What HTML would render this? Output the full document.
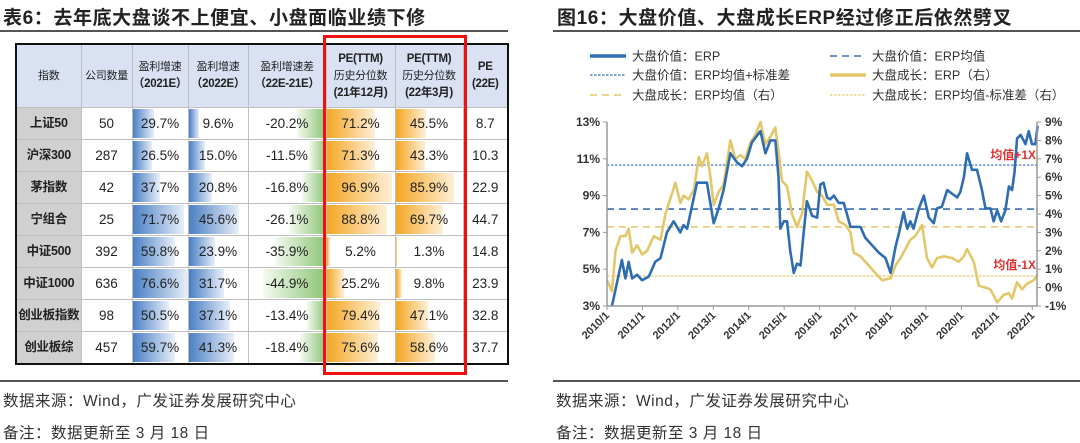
<!DOCTYPE html>
<html><head><meta charset="utf-8">
<style>
body{margin:0;width:1080px;height:443px;background:#fff;position:relative;overflow:hidden;font-family:"Liberation Sans","Noto Sans CJK SC",sans-serif;}
.t{position:absolute;white-space:nowrap;}
.title{font-weight:bold;font-size:19px;color:#222;top:3px;letter-spacing:0.6px;}
.hr{position:absolute;height:2px;background:#555;}
.foot{font-size:15.5px;color:#333;letter-spacing:0.5px;}
table{position:absolute;left:15px;top:43px;width:492px;border-collapse:collapse;border:2.5px solid #111;table-layout:fixed;font-size:13.5px;color:#222;}
td{border:1px solid #bfbfbf;text-align:center;padding:0;position:relative;height:31px;line-height:31px;white-space:nowrap;overflow:hidden;}
th{background:#d9e1f2;border:1px solid #bfbfbf;font-weight:normal;font-size:11px;line-height:17px;color:#222;height:62px;padding:0;white-space:nowrap;overflow:hidden;letter-spacing:-0.3px;}
th b{font-size:11.5px;}
td.nm{background:#d0d0d0;font-weight:bold;font-size:12.5px;letter-spacing:-0.3px;}
.bar{position:absolute;top:1px;bottom:1px;}
.v{position:relative;}
</style></head><body>
<div class="t title" style="left:3px">表6：去年底大盘谈不上便宜、小盘面临业绩下修</div>
<div class="t title" style="left:557px">图16：大盘价值、大盘成长ERP经过修正后依然劈叉</div>
<div class="hr" style="left:0;top:30px;width:508px"></div>
<div class="hr" style="left:553px;top:30px;width:527px"></div>

<table>
<colgroup><col style="width:65px"><col style="width:51px"><col style="width:56px"><col style="width:60px"><col style="width:78px"><col style="width:69px"><col style="width:68px"><col style="width:45px"></colgroup>
<thead><tr>
<th>指数</th><th>公司数量</th><th>盈利增速<br><b>（2021E）</b></th><th>盈利增速<br><b>（2022E）</b></th><th>盈利增速差<br><b>（22E-21E）</b></th><th><b>PE(TTM)</b><br>历史分位数<br><b>(21年12月)</b></th><th><b>PE(TTM)</b><br>历史分位数<br><b>(22年3月)</b></th><th><b>PE<br>(22E)</b></th>
</tr></thead>
<tbody id="tb"></tbody>
</table>
<div style="position:absolute;left:323px;top:35px;width:138px;height:334px;border:3.5px solid #f01010"></div>

<div class="hr" style="left:0;top:380px;width:508px;height:1.5px"></div>
<div class="hr" style="left:553px;top:380px;width:527px;height:1.5px"></div>
<div class="t foot" style="left:3px;top:389px">数据来源：Wind，广发证券发展研究中心</div>
<div class="t foot" style="left:3px;top:421px">备注：数据更新至 3 月 18 日</div>
<div class="t foot" style="left:556px;top:389px">数据来源：Wind，广发证券发展研究中心</div>
<div class="t foot" style="left:556px;top:421px">备注：数据更新至 3 月 18 日</div>

<svg id="ch" width="1080" height="443" style="position:absolute;left:0;top:0"></svg>

<script>
// ---- table data ----
const names=["上证50","沪深300","茅指数","宁组合","中证500","中证1000","创业板指数","创业板综"];
const counts=[50,287,42,25,392,636,98,457];
const g21=[29.7,26.5,37.7,71.7,59.8,76.6,50.5,59.7];
const g22=[9.6,15.0,20.8,45.6,23.9,31.7,37.1,41.3];
const gdiff=[-20.2,-11.5,-16.8,-26.1,-35.9,-44.9,-13.4,-18.4];
const pe21=[71.2,71.3,96.9,88.8,5.2,25.2,79.4,75.6];
const pe22=[45.5,43.3,85.9,69.7,1.3,9.8,47.1,58.6];
const pe=[8.7,10.3,22.9,44.7,14.8,23.9,32.8,37.7];
const tb=document.getElementById('tb');
function cell(tr,txt,bar){const td=document.createElement('td');
 
 
 if(bar){const b=document.createElement('div');b.className='bar';
  
  
  b.style.width=bar.w+'px';
  if(bar.right){b.style.right='0';b.style.background='linear-gradient(to left,#8cc476,#f4faf0)';}
  else{b.style.left='0';b.style.background=bar.c;}
  td.appendChild(b);}
 const s=document.createElement('span');s.className='v';s.textContent=txt;td.appendChild(s);tr.appendChild(td);return td;}
const blueG='linear-gradient(to right,#4a7fc4,#e8eff9)', orG='linear-gradient(to right,#f5a623,#fdf0d8)';
names.forEach((n,i)=>{const tr=document.createElement('tr');
 
 
 const a=cell(tr,n);a.className='nm';
 cell(tr,counts[i]);
 cell(tr,g21[i].toFixed(1)+'%',{w:Math.min(55,g21[i]/76.6*55),c:blueG});
 cell(tr,g22[i].toFixed(1)+'%',{w:Math.min(59,g22[i]/45*50),c:blueG});
 cell(tr,gdiff[i].toFixed(1)+'%',{w:Math.min(77,Math.abs(gdiff[i])*1.4),right:true});
 cell(tr,pe21[i].toFixed(1)+'%',{w:pe21[i]*0.68,c:orG});
 cell(tr,pe22[i].toFixed(1)+'%',{w:pe22[i]*0.68,c:orG});
 cell(tr,pe[i].toFixed(1));
 tb.appendChild(tr);});

// ---- chart data ----
const valueT=[2010.14,2010.42,2010.52,2010.61,2010.71,2010.85,2010.99,2011.18,2011.36,2011.51,2011.69,2011.88,2012.07,2012.16,2012.26,2012.54,2012.82,2013.01,2013.15,2013.29,2013.48,2013.67,2013.81,2013.95,2014.09,2014.33,2014.47,2014.61,2014.75,2014.84,2014.89,2014.99,2015.08,2015.17,2015.27,2015.36,2015.46,2015.55,2015.64,2015.79,2015.93,2016.02,2016.11,2016.21,2016.30,2016.40,2016.54,2016.68,2016.77,2016.87,2017.01,2017.15,2017.29,2017.48,2017.67,2017.86,2018.00,2018.14,2018.23,2018.37,2018.47,2018.56,2018.65,2018.80,2018.94,2019.08,2019.22,2019.31,2019.45,2019.60,2019.74,2019.88,2019.97,2020.07,2020.16,2020.30,2020.44,2020.58,2020.68,2020.82,2020.91,2021.01,2021.12,2021.24,2021.34,2021.43,2021.50,2021.57,2021.67,2021.81,2021.90,2021.99,2022.09,2022.15];
const valueERP=[3.0,5.5,4.5,5.4,4.5,4.7,4.4,4.6,5.4,5.6,7.0,7.6,7.0,7.4,7.2,9.7,9.7,7.5,8.3,9.3,11.3,10.8,10.6,11.0,11.9,12.5,11.3,12.0,12.0,10.0,7.2,7.6,7.6,6.0,4.8,5.3,5.2,7.0,8.7,7.9,7.8,9.6,9.7,8.9,8.8,9.0,8.6,8.6,8.0,7.3,7.3,7.3,6.7,6.3,5.9,5.6,4.8,6.2,6.9,8.1,7.2,7.6,7.2,8.3,9.0,7.8,7.5,8.3,8.4,9.3,9.1,8.9,9.2,10.0,11.3,10.4,10.4,9.3,8.3,8.3,7.6,8.2,7.6,8.2,9.5,9.3,10.3,12.1,12.3,11.8,12.5,11.8,11.8,12.8];
const growthT=[2010.00,2010.14,2010.24,2010.38,2010.52,2010.61,2010.71,2010.85,2010.99,2011.13,2011.32,2011.51,2011.65,2011.93,2012.07,2012.16,2012.30,2012.45,2012.59,2012.68,2012.82,2012.92,2013.01,2013.15,2013.29,2013.48,2013.62,2013.76,2013.90,2014.05,2014.19,2014.33,2014.47,2014.61,2014.75,2014.84,2014.94,2015.08,2015.22,2015.36,2015.50,2015.64,2015.79,2015.93,2016.07,2016.21,2016.40,2016.54,2016.73,2016.87,2016.96,2017.15,2017.34,2017.57,2017.76,2018.00,2018.14,2018.28,2018.42,2018.56,2018.70,2018.89,2019.03,2019.17,2019.31,2019.50,2019.74,2019.92,2020.07,2020.16,2020.35,2020.49,2020.68,2020.82,2021.01,2021.19,2021.34,2021.43,2021.57,2021.71,2021.85,2022.04,2022.15];
const growthERP=[0.4,-0.2,2.0,2.8,2.8,3.2,1.9,2.3,1.8,2.0,2.8,2.6,4.0,5.7,4.6,5.0,4.8,5.3,7.1,6.6,7.3,6.0,4.5,5.2,5.6,8.0,7.0,7.2,7.0,7.9,8.3,9.0,7.8,8.2,8.7,7.4,5.8,5.5,4.0,3.3,4.0,6.3,5.8,5.2,5.0,4.5,4.5,3.6,3.4,3.0,1.9,1.7,1.3,0.8,0.4,0.5,1.2,1.6,2.1,2.6,2.8,3.4,1.6,1.1,1.6,1.7,1.6,1.4,1.7,2.1,1.4,0.1,0.0,-0.1,-0.8,-0.4,-0.3,-0.6,0.3,-0.1,0.2,0.4,0.7];
const refLeft=[8.27,10.66];   // value mean, mean+std
const refRight=[3.3,0.63];    // growth mean, mean-std
const leftTicks=[3,5,7,9,11,13];
const rightTicks=[-1,0,1,2,3,4,5,6,7,8,9];
const xTickYears=[2010,2011,2012,2013,2014,2015,2016,2017,2018,2019,2020,2021,2022];

const X0=607,X1=1037,Y0=122,Y1=306;
const xs=t=>X0+(t-2010)*35.44;
const yl=v=>Y1-(v-3)/10*(Y1-Y0);
const yr=v=>Y1-(v+1)/10*(Y1-Y0);
const svg=document.getElementById('ch');const NS='http://www.w3.org/2000/svg';
function mk(tag,at,name){const e=document.createElementNS(NS,tag);for(const k in at)e.setAttribute(k,at[k]);
 
 
 svg.appendChild(e);return e;}
function txt(x,y,s,anchor,name,extra){const e=mk('text',Object.assign({x:x,y:y,'text-anchor':anchor,'font-size':12,'font-weight':'bold',fill:'#333','font-family':'Liberation Sans, Noto Sans CJK SC, sans-serif'},extra||{}),name);e.textContent=s;return e;}

mk('line',{x1:X0,x2:X1,y1:yl(refLeft[0]),y2:yl(refLeft[0]),stroke:'#3a6fb0','stroke-width':1.6,'stroke-dasharray':'7,5'},'value-mean-line');
mk('line',{x1:X0,x2:X1,y1:yl(refLeft[1]),y2:yl(refLeft[1]),stroke:'#3a6fb0','stroke-width':1.2,'stroke-dasharray':'2.5,1.5'},'value-mean-plus-std-line');
mk('line',{x1:X0,x2:X1,y1:yr(refRight[0]),y2:yr(refRight[0]),stroke:'#e3c76a','stroke-width':1.6,'stroke-dasharray':'7,5'},'growth-mean-line');
mk('line',{x1:X0,x2:X1,y1:yr(refRight[1]),y2:yr(refRight[1]),stroke:'#e3c76a','stroke-width':1.2,'stroke-dasharray':'2.5,1.5'},'growth-mean-minus-std-line');

mk('polyline',{points:growthT.map((t,i)=>xs(t)+','+yr(growthERP[i])).join(' '),fill:'none',stroke:'#e3c76a','stroke-width':2.6,'stroke-linejoin':'round'},'growth-erp-line');
mk('polyline',{points:valueT.map((t,i)=>xs(t)+','+yl(valueERP[i])).join(' '),fill:'none',stroke:'#2e6db0','stroke-width':2.6,'stroke-linejoin':'round'},'value-erp-line');

mk('line',{x1:X0,x2:X0,y1:Y0,y2:Y1,stroke:'#999','stroke-width':1.5},'left-axis');
mk('line',{x1:X1,x2:X1,y1:Y0,y2:Y1,stroke:'#999','stroke-width':1.5},'right-axis');
mk('line',{x1:X0,x2:X1,y1:Y1,y2:Y1,stroke:'#999','stroke-width':1.5},'x-axis');
leftTicks.forEach(v=>{mk('line',{x1:X0-4,x2:X0,y1:yl(v),y2:yl(v),stroke:'#999'},'left-tick');txt(X0-7,yl(v)+4,v+'%','end','left-tick-label');});
rightTicks.forEach(v=>{mk('line',{x1:X1,x2:X1+4,y1:yr(v),y2:yr(v),stroke:'#999'},'right-tick');txt(X1+8,yr(v)+4,v+'%','start','right-tick-label');});
xTickYears.forEach(y=>{const x=xs(y);mk('line',{x1:x,x2:x,y1:Y1,y2:Y1+4,stroke:'#999'},'x-tick');
 txt(x+3,Y1+10,y+'/1','end','x-tick-label',{transform:'rotate(-45 '+(x+3)+' '+(Y1+10)+')','font-size':11});});

txt(1036,159,'均值+1X','end','upper-band-label',{fill:'#e03030','font-size':12});
txt(1036,269,'均值-1X','end','lower-band-label',{fill:'#e03030','font-size':12});

const lg=[[590,56,'#2e6db0','',3.5,'大盘价值：ERP'],[830,56,'#3a6fb0','7,5',1.6,'大盘价值：ERP均值'],[590,75,'#3a6fb0','2.5,1.5',1.2,'大盘价值：ERP均值+标准差'],[830,75,'#e3c76a','',3.5,'大盘成长：ERP（右）'],[590,95,'#e3c76a','7,5',1.6,'大盘成长：ERP均值（右）'],[830,95,'#e3c76a','2.5,1.5',1.2,'大盘成长：ERP均值-标准差（右）']];
lg.forEach(l=>{const at={x1:l[0],x2:l[0]+36,y1:l[1],y2:l[1],stroke:l[2],'stroke-width':l[4]};if(l[3])at['stroke-dasharray']=l[3];
 mk('line',at,'legend-swatch');txt(l[0]+42,l[1]+4.5,l[5],'start','legend-entry',{'font-weight':'normal','font-size':12.5});});
</script>
</body></html>
